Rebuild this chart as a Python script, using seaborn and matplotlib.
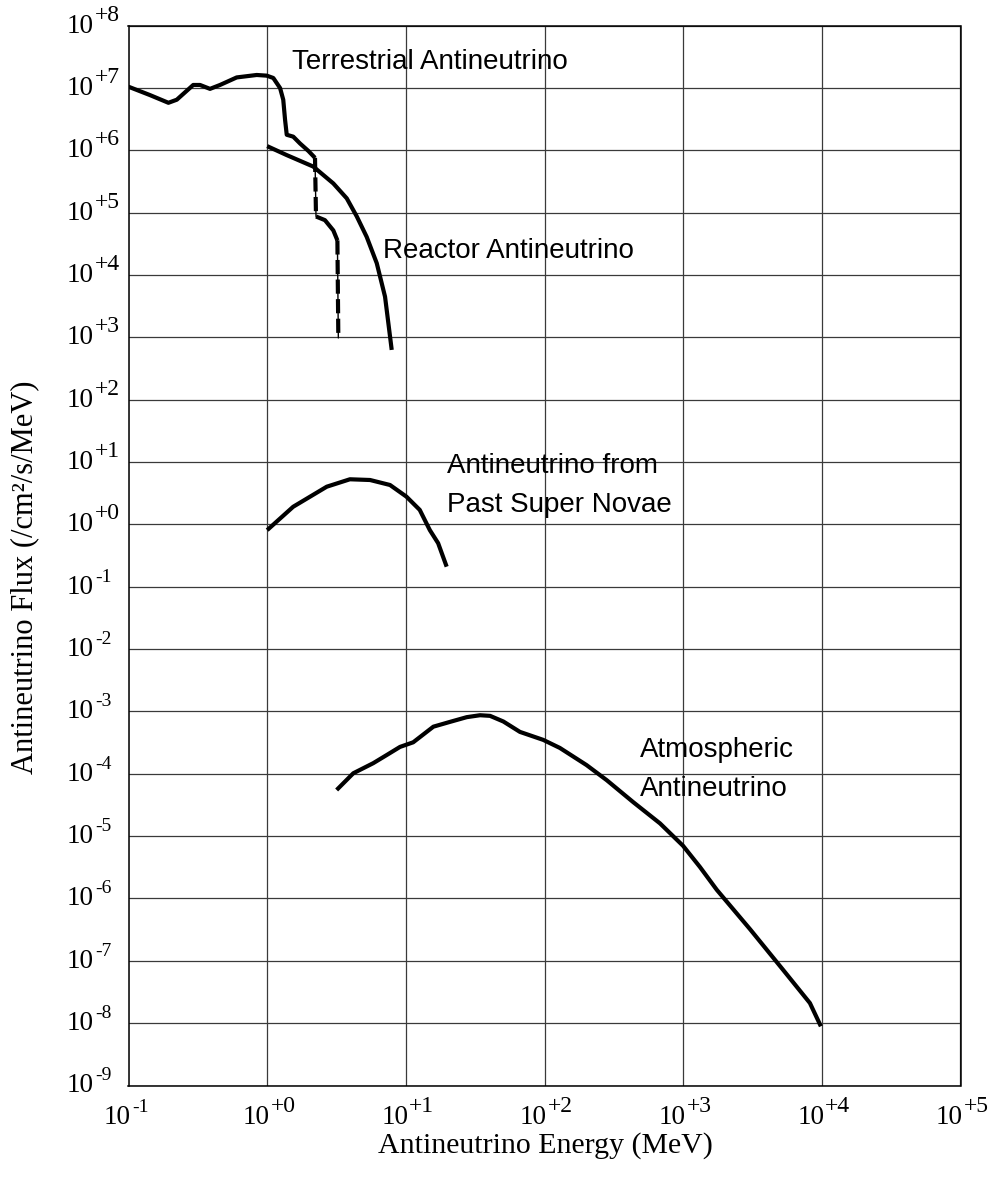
import matplotlib
matplotlib.use("Agg")
import matplotlib.pyplot as plt
import seaborn as sns

# ---------------- data ----------------
terrestrial_energy = [0.1, 0.143, 0.194, 0.223, 0.293, 0.328, 0.387, 0.457, 0.603, 0.841,
                      0.993, 1.107, 1.239, 1.306, 1.346, 1.384, 1.542, 1.726, 1.982, 2.213,
                      2.25, 2.61, 3.0, 3.21, 3.26]
terrestrial_flux = [1.05e7, 7.7e6, 5.8e6, 6.5e6, 1.12e7, 1.12e7, 9.7e6, 1.12e7, 1.48e7, 1.62e7,
                    1.58e7, 1.45e7, 1.0e7, 6.5e6, 3.1e6, 1.78e6, 1.66e6, 1.29e6, 9.8e5, 7.6e5,
                    8.7e4, 7.6e4, 5.2e4, 3.6e4, 980]

reactor_energy = [1.0, 1.384, 2.15, 3.0, 3.75, 4.43, 5.22, 6.17, 7.08, 7.91]
reactor_flux = [1.17e6, 8.4e5, 5.5e5, 2.95e5, 1.7e5, 8.7e4, 4.1e4, 1.55e4, 4.5e3, 630]

supernova_energy = [1.0, 1.54, 2.69, 3.95, 5.52, 7.69, 10.1, 12.6, 14.9, 17.1, 19.7]
supernova_flux = [0.81, 1.92, 4.03, 5.3, 5.16, 4.29, 2.79, 1.71, 0.81, 0.50, 0.21]

atmospheric_energy = [3.17, 4.18, 5.82, 7.28, 9.08, 11.3, 15.8, 20.8, 27.5, 34.3, 40.5, 50.5,
                      66.5, 97.9, 129, 201, 281, 437, 681, 998, 1321, 1746, 3041, 5272, 8204, 9840]
atmospheric_flux = [5.5e-5, 1.02e-4, 1.48e-4, 2.0e-4, 2.7e-4, 3.2e-4, 5.7e-4, 6.8e-4, 8.1e-4,
                    8.7e-4, 8.5e-4, 6.9e-4, 4.7e-4, 3.5e-4, 2.6e-4, 1.38e-4, 7.9e-5, 3.5e-5,
                    1.6e-5, 7.0e-6, 3.2e-6, 1.38e-6, 3.2e-7, 7.1e-8, 2.1e-8, 8.9e-9]

x_exponents = [-1, 0, 1, 2, 3, 4, 5]
y_exponents = list(range(-9, 9))

# terrestrial curve pieces: (start index, end index, dashed?)
terrestrial_pieces = [(0, 19, False), (19, 20, True), (20, 23, False), (23, 24, True)]

# ---------------- style ----------------
sns.set_style("white")
SANS = ["Liberation Sans", "DejaVu Sans"]
SERIF = ["Liberation Serif", "DejaVu Serif"]
plt.rcParams["font.family"] = SANS
plt.rcParams["text.color"] = "black"
plt.rcParams["axes.labelcolor"] = "black"

W, H = 990, 1193
fig = plt.figure(figsize=(W / 100, H / 100), dpi=100)
left, right, top, bottom = 128.5, 960.5, 25.7, 1085.5
ax = fig.add_axes([left / W, 1 - bottom / H, (right - left) / W, (bottom - top) / H])
ax.set_xscale("log")
ax.set_yscale("log")


def pt(px):
    return px * 72.0 / 100.0


def draw(x, y, dashed=False):
    if dashed:
        sns.lineplot(x=x, y=y, ax=ax, sort=False, estimator=None, color="black",
                     linewidth=1.0, legend=False)
        sns.lineplot(x=x, y=y, ax=ax, sort=False, estimator=None, color="black",
                     linewidth=3.0, linestyle=(0, (3.4, 1.3)), legend=False,
                     dash_capstyle="butt")
    else:
        sns.lineplot(x=x, y=y, ax=ax, sort=False, estimator=None, color="black",
                     linewidth=3.0, legend=False, solid_joinstyle="round",
                     solid_capstyle="butt")


for i0, i1, dashed in terrestrial_pieces:
    draw(terrestrial_energy[i0:i1 + 1], terrestrial_flux[i0:i1 + 1], dashed)
draw(reactor_energy, reactor_flux)
draw(supernova_energy, supernova_flux)
draw(atmospheric_energy, atmospheric_flux)

ax.set_xlim(10.0 ** x_exponents[0], 10.0 ** x_exponents[-1])
ax.set_ylim(10.0 ** y_exponents[0], 10.0 ** y_exponents[-1])
ax.set_xticks([10.0 ** e for e in x_exponents])
ax.set_yticks([10.0 ** e for e in y_exponents])
ax.minorticks_off()
ax.set_xticklabels([])
ax.set_yticklabels([])
ax.tick_params(length=0)
ax.grid(True, which="major", color="#3a3a3a", linewidth=0.9)
ax.set_axisbelow(True)
for s in ax.spines.values():
    s.set_color("black")
    s.set_linewidth(1.1)
ax.set_xlabel("")
ax.set_ylabel("")


def exp_text(e):
    return ("+%d" % e) if e >= 0 else ("-%d" % (-e))


# x tick labels
xt = ax.get_xaxis_transform()
for e in x_exponents:
    v = 10.0 ** e
    ax.annotate("10", xy=(v, 0), xycoords=xt, xytext=(pt(2.5), -pt(38.5)),
                textcoords="offset points", ha="right", va="baseline", color="black",
                fontsize=19.5, family=SERIF, annotation_clip=False)
    ax.annotate(exp_text(e), xy=(v, 0), xycoords=xt, xytext=(pt(3.5), -pt(26)),
                textcoords="offset points", ha="left", va="baseline", color="black",
                fontsize=17 if e >= 0 else 14, family=SERIF, annotation_clip=False)

# y tick labels
yt = ax.get_yaxis_transform()
for e in y_exponents:
    v = 10.0 ** e
    ax.annotate("10", xy=(0, v), xycoords=yt, xytext=(-pt(61.5), -pt(7)),
                textcoords="offset points", ha="left", va="baseline", color="black",
                fontsize=19.5, family=SERIF, annotation_clip=False)
    ax.annotate(exp_text(e), xy=(0, v), xycoords=yt, xytext=(-pt(33.5), pt(5)),
                textcoords="offset points", ha="left", va="baseline", color="black",
                fontsize=17 if e >= 0 else 14, family=SERIF, annotation_clip=False)

# axis titles
fig.text(545 / W, 1 - 1146 / H, "Antineutrino Energy (MeV)", ha="center", va="center",
         fontsize=21.5, family=SERIF, color="black")
fig.text(25 / W, 1 - 577 / H, "Antineutrino Flux (/cm\u00b2/s/MeV)", ha="center",
         va="center", rotation=90, fontsize=22, family=SERIF, color="black")

# curve annotations
ax.text(1.50, 2.02e7, "Terrestrial Antineutrino", fontsize=20, ha="left", va="baseline", color="black")
ax.text(6.87, 1.9e4, "Reactor Antineutrino", fontsize=20, ha="left", va="baseline", color="black")
ax.text(19.7, 6.6, "Antineutrino from", fontsize=20, ha="left", va="baseline", color="black")
ax.text(19.7, 1.6, "Past Super Novae", fontsize=20, ha="left", va="baseline", color="black")
ax.text(489, 1.88e-4, "Atmospheric", fontsize=20, ha="left", va="baseline", color="black")
ax.text(489, 4.4e-5, "Antineutrino", fontsize=20, ha="left", va="baseline", color="black")

fig.savefig("out.png", dpi=100)
